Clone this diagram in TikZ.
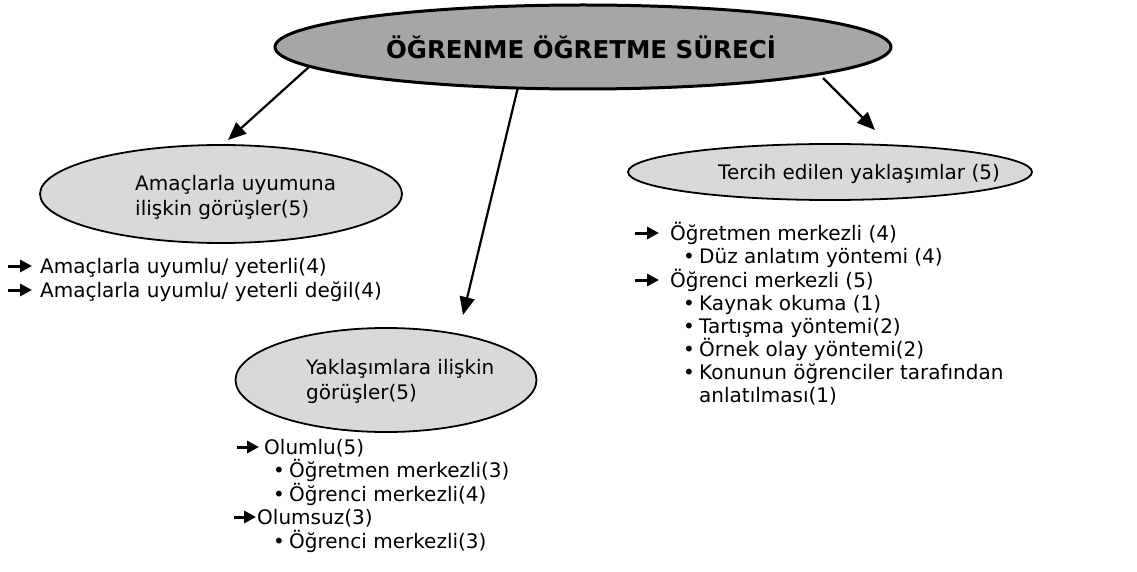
\documentclass[tikz,border=0pt]{standalone}
\usepackage{fontspec}
\setmainfont{DejaVu Sans}
\usetikzlibrary{shapes.geometric,arrows.meta}
\definecolor{maingray}{HTML}{A6A6A6}
\definecolor{lightgray}{HTML}{D9D9D9}
\tikzset{
  txt/.style={inner sep=0pt, anchor=base west, font=\fontsize{20}{25}\selectfont},
  oval/.style={ellipse, draw=black, line width=1.8pt, fill=lightgray, inner sep=0pt},
  conn/.style={line width=2.2pt, -{Triangle[length=18pt,width=15pt]}},
  marker/.style={line width=3pt, -{Triangle[length=12pt,width=12pt]}},
  bul/.style={inner sep=0pt, anchor=base, font=\fontsize{20}{25}\selectfont}
}
\begin{document}
\begin{tikzpicture}[x=1pt,y=-1pt]
\useasboundingbox (0,0) rectangle (1137,572);
% main
\node[ellipse, draw=black, line width=3pt, fill=maingray, minimum width=616pt, minimum height=84pt, inner sep=0pt] (main) at (583,47) {};
\node[inner sep=0pt, font=\bfseries\fontsize{24.5}{28}\selectfont] (title) at (581,47) {ÖĞRENME ÖĞRETME SÜRECİ};
% ellipses
\node[oval, minimum width=362pt, minimum height=98pt] (a2) at (221,194) {};
\node[txt] (t2a) at (135,190) {Amaçlarla uyumuna};
\node[txt] (t2b) at (135,215) {ilişkin görüşler(5)};
\node[oval, minimum width=404pt, minimum height=56pt] (a3) at (830,172) {};
\node[txt] (t3) at (718,179) {Tercih edilen yaklaşımlar (5)};
\node[oval, minimum width=301pt, minimum height=104pt] (a4) at (386,380) {};
\node[txt] (t4a) at (306,374) {Yaklaşımlara ilişkin};
\node[txt] (t4b) at (306,399) {görüşler(5)};
% connectors
\coordinate (s1) at (310,66); \coordinate (e1) at (228,140);
\coordinate (s2) at (518,87); \coordinate (e2) at (463,315);
\coordinate (s3) at (823,78); \coordinate (e3) at (875,130);
\draw[conn] (s1) -- (e1);
\draw[conn] (s2) -- (e2);
\draw[conn] (s3) -- (e3);
% left list
\coordinate (m1a) at (8,266); \coordinate (m1b) at (32,266);
\coordinate (m2a) at (8,290); \coordinate (m2b) at (32,290);
\draw[marker] (m1a) -- (m1b);
\draw[marker] (m2a) -- (m2b);
\node[txt] (l1) at (40,273) {Amaçlarla uyumlu/ yeterli(4)};
\node[txt] (l2) at (40,297) {Amaçlarla uyumlu/ yeterli değil(4)};
% right list
\coordinate (r1a) at (635,233); \coordinate (r1b) at (659,233);
\coordinate (r2a) at (635,280); \coordinate (r2b) at (659,280);
\draw[marker] (r1a) -- (r1b);
\draw[marker] (r2a) -- (r2b);
\node[txt] (r1) at (670,240) {Öğretmen merkezli (4)};
\node[bul] (rb1) at (689,263) {•};
\node[txt] (r11) at (699,263) {Düz anlatım yöntemi (4)};
\node[txt] (r2) at (670,287) {Öğrenci merkezli (5)};
\node[bul] (rb2) at (689,310) {•};
\node[txt] (r21) at (699,310) {Kaynak okuma (1)};
\node[bul] (rb3) at (689,333) {•};
\node[txt] (r22) at (699,333) {Tartışma yöntemi(2)};
\node[bul] (rb4) at (689,356) {•};
\node[txt] (r23) at (699,356) {Örnek olay yöntemi(2)};
\node[bul] (rb5) at (689,379) {•};
\node[txt] (r24) at (699,379) {Konunun öğrenciler tarafından};
\node[txt] (r25) at (699,402) {anlatılması(1)};
% bottom list
\coordinate (b1a) at (237,447); \coordinate (b1b) at (259,447);
\coordinate (b2a) at (234,517); \coordinate (b2b) at (256,517);
\draw[marker] (b1a) -- (b1b);
\draw[marker] (b2a) -- (b2b);
\node[txt] (b1) at (264,454) {Olumlu(5)};
\node[bul] (bb1) at (279,477) {•};
\node[txt] (b11) at (289,477) {Öğretmen merkezli(3)};
\node[bul] (bb2) at (279,501) {•};
\node[txt] (b12) at (289,501) {Öğrenci merkezli(4)};
\node[txt] (b2) at (257,524) {Olumsuz(3)};
\node[bul] (bb3) at (279,548) {•};
\node[txt] (b21) at (289,548) {Öğrenci merkezli(3)};
\end{tikzpicture}
\end{document}
